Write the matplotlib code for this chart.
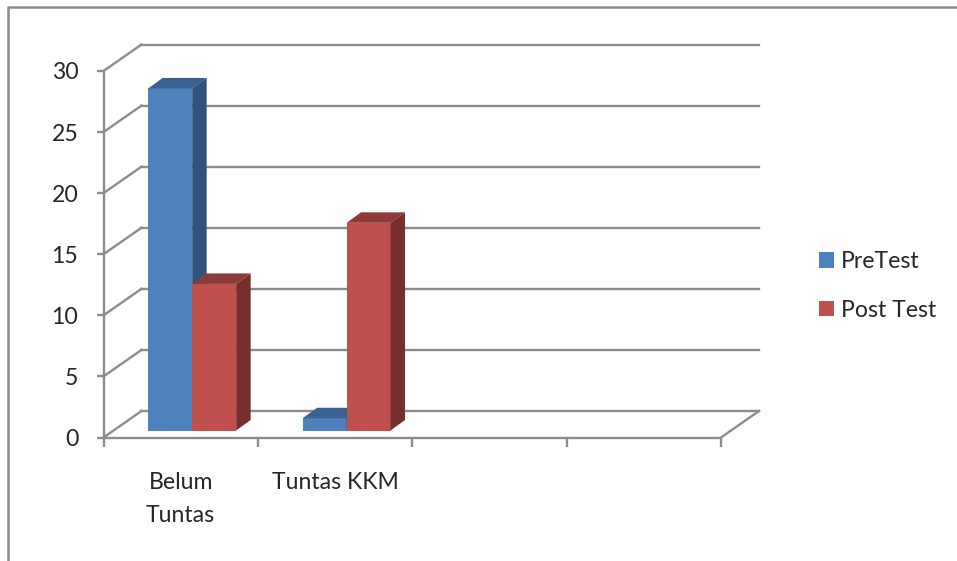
import matplotlib.pyplot as plt
from matplotlib.lines import Line2D
from matplotlib.patches import Patch

plt.rcParams['font.family'] = ['Lato', 'DejaVu Sans']

categories = ["Belum\nTuntas", "Tuntas KKM", "", ""]
pretest = [28, 1]
post_test = [12, 17]
y_ticks = [0, 5, 10, 15, 20, 25, 30]

GRAY = '#8c8c8c'
TEXT = '#262626'
LW = 1.7
W, H = 957, 561

# depth of the 3d box, in data units
WALL_DX = 38 / 154.4
WALL_DY = 26.5 / 12.217
# bars stand a little behind the front edge of the floor
BAR_DX = 11.5 / 154.4
BAR_DY = 7 / 12.217
# thickness of a bar
DEPTH_DX = 14.5 / 154.4
DEPTH_DY = 10.5 / 12.217
BAR_W = 44 / 154.4


def draw_bar(ax, x, value, front, top, side, z):
    # x is the left edge of the front face before the shift into the box
    left = x + BAR_DX
    right = left + BAR_W
    y0 = BAR_DY
    y1 = BAR_DY + value
    ax.bar(left, value, BAR_W, bottom=y0, align='edge', color=front, zorder=z, clip_on=False)
    ax.fill([left, right, right + DEPTH_DX, left + DEPTH_DX],
            [y1, y1, y1 + DEPTH_DY, y1 + DEPTH_DY],
            color=top, lw=0, zorder=z, clip_on=False)
    ax.fill([right, right + DEPTH_DX, right + DEPTH_DX, right],
            [y0, y0 + DEPTH_DY, y1 + DEPTH_DY, y1],
            color=side, lw=0, zorder=z, clip_on=False)


fig = plt.figure(figsize=(W / 100, H / 100), dpi=100)
ax = fig.add_axes([103.5 / W, (H - 437.5) / H, 617.5 / W, 366.5 / H])

n = len(categories)
ax.set_xlim(0, n)
ax.set_ylim(0, 30)
ax.patch.set_visible(False)

# back wall, left wall and floor lines
for v in y_ticks:
    ax.plot([WALL_DX, n + WALL_DX], [v + WALL_DY, v + WALL_DY], color=GRAY, lw=LW, zorder=1, clip_on=False)
    ax.plot([0, WALL_DX], [v, v + WALL_DY], color=GRAY, lw=LW, zorder=1, clip_on=False)
ax.plot([n, n + WALL_DX], [0, WALL_DY], color=GRAY, lw=LW, zorder=1, clip_on=False)

# series are drawn one after the other so red overlaps the blue side face
z = 2
for i in range(len(pretest)):
    centre = i + 0.5
    draw_bar(ax, centre - BAR_W, pretest[i], '#4f81bd', '#3a6191', '#31527a', z)
    draw_bar(ax, centre, post_test[i], '#c0504d', '#8e3a38', '#772f2d', z + 1)
    z += 2

for name in ['top', 'right']:
    ax.spines[name].set_visible(False)
for name in ['left', 'bottom']:
    ax.spines[name].set_color(GRAY)
    ax.spines[name].set_linewidth(LW)
    ax.spines[name].set_zorder(10)

ax.set_yticks(y_ticks)
ax.tick_params(axis='y', length=4.7, width=LW, color=GRAY, pad=13.5, labelsize=16.6, labelcolor=TEXT)
plt.setp(ax.get_yticklabels(), va='center_baseline')

ax.set_xticks(range(n + 1))
ax.set_xticklabels([])
ax.tick_params(axis='x', which='major', length=6.5, width=LW, color=GRAY)
ax.set_xticks([i + 0.5 for i in range(n)], minor=True)
ax.set_xticklabels(categories, minor=True, fontsize=16.6, color=TEXT, linespacing=1.7)
ax.tick_params(axis='x', which='minor', length=0, pad=24.7)

handles = [Patch(facecolor='#4f81bd', label='PreTest'), Patch(facecolor='#c0504d', label='Post Test')]
fig.legend(handles=handles, loc='upper left', bbox_to_anchor=(819 / W, 1 - 251 / H),
           frameon=False, fontsize=16.6, labelcolor=TEXT, borderpad=0, borderaxespad=0,
           handlelength=0.65, handleheight=0.65, handletextpad=0.3, labelspacing=1.21)

# outer frame, only top and left are in view
fig.add_artist(Line2D([8 / W, 8 / W, 1], [0, 1 - 6.5 / H, 1 - 6.5 / H], color=GRAY, lw=1.8))

fig.savefig('out.png', dpi=100)
